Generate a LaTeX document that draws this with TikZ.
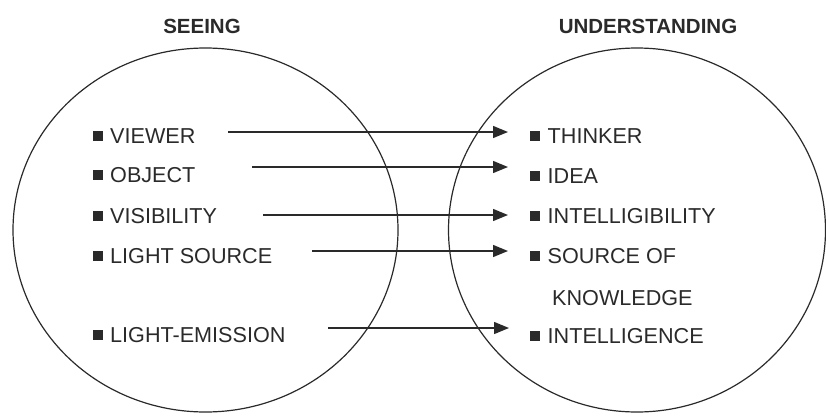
\documentclass[tikz,border=0pt]{standalone}
\usepackage{fontspec}
\setmainfont{Liberation Sans}
\usetikzlibrary{arrows.meta}
\definecolor{ink}{HTML}{2A2A2A}
\newcommand{\bul}{\raisebox{2.8pt}{\rule{10pt}{10pt}}\hspace{7.5pt}}
\tikzset{
  ring/.style={draw=ink, line width=1.2pt},
  title/.style={font=\fontsize{20.5}{24}\selectfont\bfseries, text=ink, inner sep=0pt},
  item/.style={font=\fontsize{21.6}{24}\selectfont, text=ink, inner sep=0pt, anchor=west},
  plain/.style={font=\fontsize{21.6}{24}\selectfont, text=ink, inner sep=0pt, anchor=west},
  arr/.style={draw=ink, line width=1.4pt, -{Triangle[length=15pt,width=12pt]}}
}
\begin{document}
\begin{tikzpicture}[x=1pt,y=-1pt]
\useasboundingbox (0,0) rectangle (826,415);
\begin{scope}
\clip (0,0) rectangle (826,415);
\draw[ring] (205.5,230) ellipse [x radius=192.5, y radius=182];
\draw[ring] (637,230) ellipse [x radius=188.5, y radius=182];
\end{scope}
\node[title] (seeing) at (202,26) {SEEING};
\node[title] (underst) at (648,26) {UNDERSTANDING};
% left items
\node[item] (viewer) at (92.5,136) {\bul VIEWER};
\node[item] (object) at (92.5,175) {\bul OBJECT};
\node[item] (visib) at (92.5,216) {\bul VISIBILITY};
\node[item] (lightsrc) at (92.5,256) {\bul LIGHT SOURCE};
\node[item] (lightem) at (92.5,335) {\bul LIGHT-EMISSION};
% right items
\node[item] (thinker) at (530,136) {\bul THINKER};
\node[item] (idea) at (530,176) {\bul IDEA};
\node[item] (intellig) at (530,216) {\bul INTELLIGIBILITY};
\node[item] (source) at (530,256) {\bul SOURCE OF};
\node[plain] (knowledge) at (552,298) {KNOWLEDGE};
\node[item] (intell) at (530,336) {\bul INTELLIGENCE};
% arrow starts
\coordinate (s1) at (228,132);
\coordinate (s2) at (252,167);
\coordinate (s3) at (263,215);
\coordinate (s4) at (312,251);
\coordinate (s5) at (328,328);
\draw[arr, shorten >=22pt] (s1) -- (s1 -| thinker.west);
\draw[arr, shorten >=22pt] (s2) -- (s2 -| idea.west);
\draw[arr, shorten >=22pt] (s3) -- (s3 -| intellig.west);
\draw[arr, shorten >=22pt] (s4) -- (s4 -| source.west);
\draw[arr, shorten >=21pt] (s5) -- (s5 -| intell.west);
\end{tikzpicture}
\end{document}
